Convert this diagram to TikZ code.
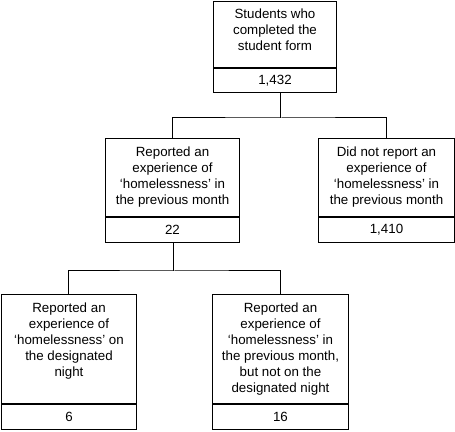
\documentclass[tikz,border=0pt]{standalone}
\usepackage{fontspec}
\setmainfont{Liberation Sans}
\usetikzlibrary{positioning}
\begin{document}
\begin{tikzpicture}[x=0.75pt,y=-0.75pt,line width=0.75pt]
  \tikzstyle{every node}=[font=\fontsize{10}{12}\selectfont]
  \tikzstyle{frame}=[draw=black,anchor=north west,inner sep=0pt]
  \tikzstyle{desc}=[align=center,inner sep=0pt]
  \tikzstyle{tally}=[draw=black,inner sep=0pt,minimum height=18.75pt]

  \useasboundingbox (0,0) rectangle (455,432);

  % top box
  \node [frame,minimum width=92.25pt,minimum height=50.25pt] (form) at (213,0.5) {};
  \node [desc,below=6pt of form.north] {Students who\\completed the\\student form};
  \node [tally,minimum width=92.25pt,minimum height=18pt,below=0pt of form] (formcount) {1,432};

  % second row
  \node [frame,minimum width=100.5pt,minimum height=58.5pt] (prev) at (105,138) {};
  \node [desc,below=6pt of prev.north] {Reported an\\experience of\\‘homelessness’ in\\the previous month};
  \node [tally,minimum width=100.5pt,below=0pt of prev] (prevcount) {22};

  \node [frame,minimum width=102pt,minimum height=58.5pt] (noprev) at (318,138) {};
  \node [desc,below=6pt of noprev.north] {Did not report an\\experience of\\‘homelessness’ in\\the previous month};
  \node [tally,minimum width=102pt,below=0pt of noprev] (noprevcount) {1,410};

  % third row
  \node [frame,minimum width=102pt,minimum height=81.75pt] (night) at (0.5,294) {};
  \node [desc,below=6pt of night.north] {Reported an\\experience of\\‘homelessness’ on\\the designated\\night};
  \node [tally,minimum width=102pt,below=0pt of night] (nightcount) {6};

  \node [frame,minimum width=102pt,minimum height=81.75pt] (notnight) at (212,294) {};
  \node [desc,below=6pt of notnight.north] {Reported an\\experience of\\‘homelessness’ in\\the previous month,\\but not on the\\designated night};
  \node [tally,minimum width=102pt,below=0pt of notnight] (notnightcount) {16};

  % connectors
  \coordinate (fork1) at (281,118);
  \coordinate (fork2) at (174,271);
  \draw (formcount.south -| fork1) -- (fork1);
  \draw (prev.north) |- (fork1) -| (noprev.north);
  \draw (prevcount.south -| fork2) -- (fork2);
  \draw (night.north) |- (fork2) -| (notnight.north);
\end{tikzpicture}
\end{document}
